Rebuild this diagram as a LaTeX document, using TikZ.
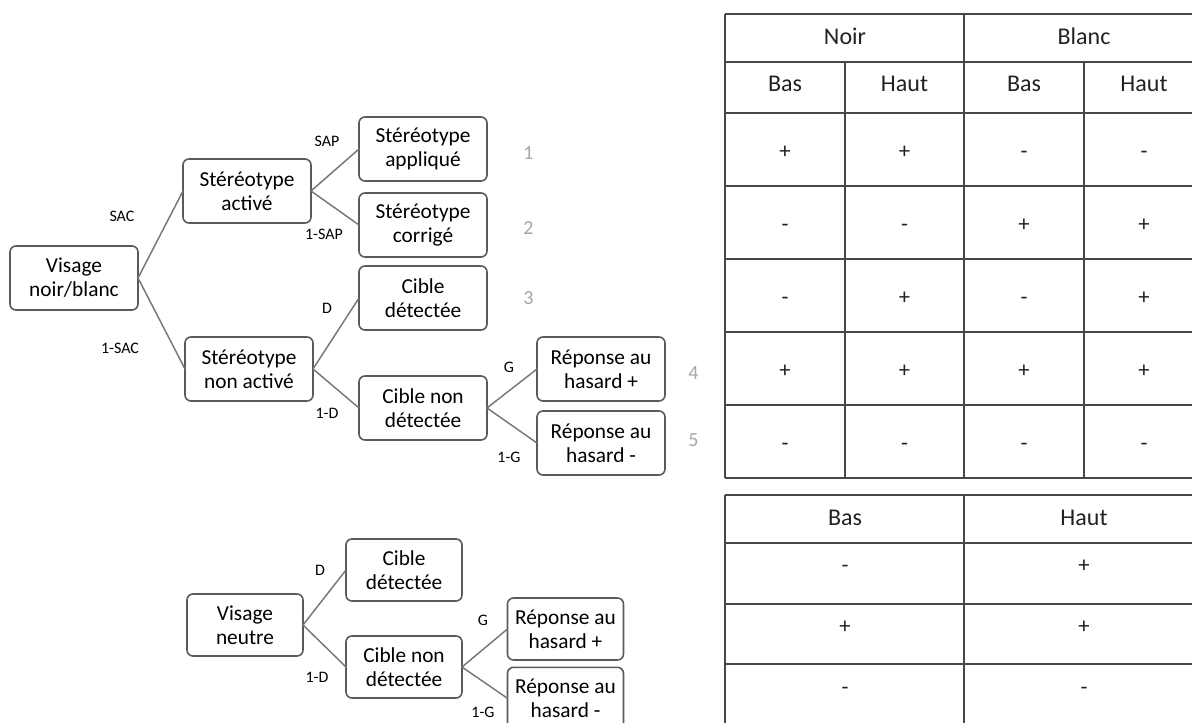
\documentclass[tikz,border=0pt]{standalone}
\usepackage{fontspec}
\setmainfont{Carlito}
\usetikzlibrary{positioning}
\definecolor{boxgray}{HTML}{5A5A5A}
\definecolor{linegray}{HTML}{777777}
\definecolor{numgray}{HTML}{A6A6A6}
\definecolor{tabgray}{HTML}{474747}
\definecolor{txtdark}{HTML}{222222}

\begin{document}
\begin{tikzpicture}[x=0.75pt,y=-0.75pt,
box/.style={draw=boxgray,line width=1.2pt,rounded corners=4.5pt,minimum width=96pt,minimum height=48pt,inner sep=0pt,outer sep=0pt,align=center,font=\fontsize{16}{18}\selectfont},
sbox/.style={box,minimum width=87pt,minimum height=46.5pt},
branch/.style={draw=linegray,line width=1.1pt},
lbl/.style={font=\fontsize{12}{14}\selectfont},
num/.style={inner sep=0pt,text=numgray,font=\fontsize{15}{17}\selectfont},
tabline/.style={draw=tabgray,line width=0.9pt},
hdr/.style={text=txtdark,font=\fontsize{18}{20}\selectfont},
val/.style={text=txtdark,text height=11pt,text depth=0pt,font=\fontsize{17}{20}\selectfont}]
\clip (0,0) rectangle (1192,723);

\node[box] (vnb) at (74,278) {Visage\\noir/blanc};
\node[box, right=33.75pt of vnb, yshift=65.25pt] (sa) {Stéréotype\\activé};
\node[box, right=35.25pt of vnb, yshift=-68.25pt] (sna) {Stéréotype\\non activé};
\node[box, right=36pt of sa, yshift=31.5pt] (sapp) {Stéréotype\\appliqué};
\node[box, right=36pt of sa, yshift=-25.5pt] (scor) {Stéréotype\\corrigé};
\node[box, right=34.5pt of sna, yshift=53.25pt] (cd) {Cible\\détectée};
\node[box, right=34.5pt of sna, yshift=-29.25pt] (cnd) {Cible non\\détectée};
\node[box, right=37.5pt of cnd, yshift=29.25pt] (rp) {Réponse au\\hasard +};
\node[box, right=37.5pt of cnd, yshift=-26.25pt] (rm) {Réponse au\\hasard -};

\node[num, right=27pt of sapp, yshift=-3pt] (n1) {1};
\node[num, right=27pt of scor, yshift=-2.25pt] (n2) {2};
\node[num, right=27pt of cd] (n3) {3};
\node[num, right=17.3pt of rp, yshift=-3pt] (n4) {4};
\node[num, right=17.3pt of rm, yshift=2.25pt] (n5) {5};

\draw[branch] (vnb.east) -- node[lbl, xshift=-28.9pt, yshift=13.9pt] {SAC} (sa.west);
\draw[branch] (vnb.east) -- node[lbl, xshift=-31.1pt, yshift=-18.4pt] {1-SAC} (sna.west);
\draw[branch] (sa.east) -- node[lbl, xshift=-6pt, yshift=21.75pt] {SAP} (sapp.west);
\draw[branch] (sa.east) -- node[lbl, xshift=-8.25pt, yshift=-19.5pt] {1-SAP} (scor.west);
\draw[branch] (sna.east) -- node[lbl, xshift=-6.75pt, yshift=19.1pt] {D} (cd.west);
\draw[branch] (sna.east) -- node[lbl, xshift=-6.75pt, yshift=-18.4pt] {1-D} (cnd.west);
\draw[branch] (cnd.east) -- node[lbl, xshift=-2.25pt, yshift=16.1pt] {G} (rp.west);
\draw[branch] (cnd.east) -- node[lbl, xshift=-2.25pt, yshift=-23.6pt] {1-G} (rm.west);

\node[sbox] (vn) at (245,625) {Visage\\neutre};
\node[sbox, right=32.25pt of vn, yshift=41.25pt] (cd2) {Cible\\détectée};
\node[sbox, right=32.25pt of vn, yshift=-31.5pt] (cnd2) {Cible non\\détectée};
\node[sbox, right=34.1pt of cnd2, yshift=28.5pt] (rp2) {Réponse au\\hasard +};
\node[sbox, right=34.1pt of cnd2, yshift=-23.5pt] (rm2) {Réponse au\\hasard -};

\draw[branch] (vn.east) -- node[lbl, xshift=-3.4pt, yshift=20.6pt] {D} (cd2.west);
\draw[branch] (vn.east) -- node[lbl, xshift=-5.6pt, yshift=-23.25pt] {1-D} (cnd2.west);
\draw[branch] (cnd2.east) -- node[lbl, xshift=-1.3pt, yshift=21pt] {G} (rp2.west);
\draw[branch] (cnd2.east) -- node[lbl, xshift=-1.3pt, yshift=-22.5pt] {1-G} (rm2.west);

\foreach \y in {14,62,113,186,259,332,405,478}
  \draw[tabline] (725,\y) -- (1192,\y);
\draw[tabline] (725,14) -- (725,478);
\draw[tabline] (964,14) -- (964,478);
\draw[tabline] (845,62) -- (845,478);
\draw[tabline] (1084,62) -- (1084,478);
\node[hdr] (noir) at (845,36) {Noir};
\node[hdr] (blanc) at (1084,36) {Blanc};
\node[hdr] (nbas) at (785,84) {Bas};
\node[hdr] (nhaut) at (904.5,84) {Haut};
\node[hdr] (bbas) at (1024,84) {Bas};
\node[hdr] (bhaut) at (1144,84) {Haut};
\foreach \a/\b/\c/\d [count=\i] in {+/+/-/-, -/-/+/+, -/+/-/+, +/+/+/+, -/-/-/-}{
  \node[val] (r\i a) at (785,151+73*\i-73) {\a};
  \node[val] (r\i b) at (904.5,151+73*\i-73) {\b};
  \node[val] (r\i c) at (1024,151+73*\i-73) {\c};
  \node[val] (r\i d) at (1144,151+73*\i-73) {\d};
}

\foreach \y in {495,543,604,664}
  \draw[tabline] (725,\y) -- (1192,\y);
\draw[tabline] (725,495) -- (725,723);
\draw[tabline] (964,495) -- (964,723);
\node[hdr] (bas) at (845,518) {Bas};
\node[hdr] (haut) at (1084,518) {Haut};
\foreach \a/\b [count=\i] in {-/+, +/+, -/-}{
  \node[val] (s\i a) at (845,565+61*\i-61) {\a};
  \node[val] (s\i b) at (1084,565+61*\i-61) {\b};
}
\end{tikzpicture}
\end{document}
